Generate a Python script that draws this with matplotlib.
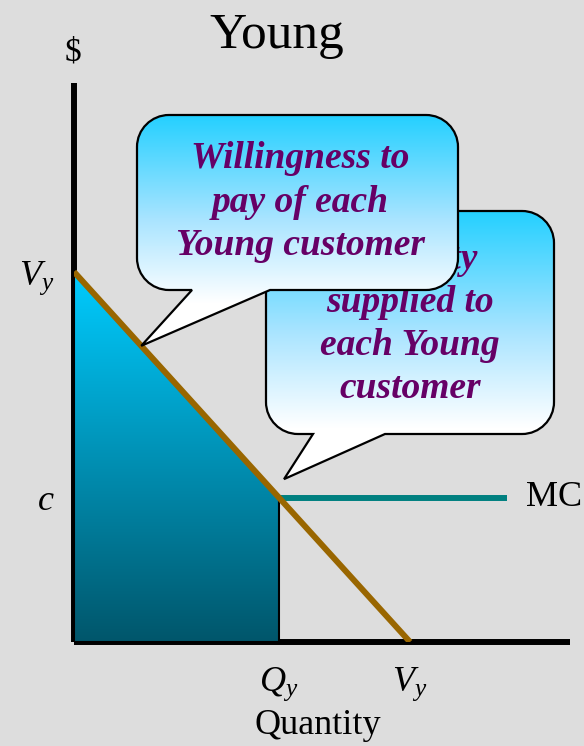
import matplotlib.pyplot as plt
import numpy as np
from matplotlib.path import Path
from matplotlib.patches import PathPatch, Polygon
from matplotlib.colors import LinearSegmentedColormap

plt.rcParams['font.family'] = ['Liberation Serif', 'DejaVu Serif']
plt.rcParams['mathtext.fontset'] = 'custom'
plt.rcParams['mathtext.rm'] = 'Liberation Serif'
plt.rcParams['mathtext.it'] = 'Liberation Serif:italic'

# demand of a Young customer: price from vy down to 0 at quantity vy
vy = 10.0
c = 3.9          # marginal cost
qy = 6.1         # quantity where demand meets MC
mc_end = 12.9

demand_x = [0, vy]
demand_y = [vy, 0]

x_ticks = [qy, vy]
x_labels = ['$Q_y$', '$V_y$']
y_ticks = [c, vy]
y_labels = ['$c$', '$V_y$']

bubble_texts = ['Willingness to\npay of each\nYoung customer',
                'Quantity\nsupplied to\neach Young\ncustomer']
bubble_tips = [(2.0, 8.0), (6.25, 4.4)]

bg = '#dddddd'
purple = '#660066'

fig = plt.figure(figsize=(5.84, 7.46), dpi=100, facecolor=bg)
ax = fig.add_axes([74 / 584, 104 / 746, 496 / 584, 559 / 746])
ax.set_facecolor(bg)
ax.set_xlim(0, 14.76)
ax.set_ylim(0, 15.1)
for s in ['top', 'right']:
    ax.spines[s].set_visible(False)
for s in ['left', 'bottom']:
    ax.spines[s].set_linewidth(4.3)
    ax.spines[s].set_color('black')
    ax.spines[s].set_capstyle('butt')

ax.set_xticks(x_ticks, x_labels, fontsize=26)
ax.set_yticks(y_ticks, y_labels, fontsize=26)
ax.tick_params(length=0)
ax.tick_params(axis='x', pad=17)
ax.tick_params(axis='y', pad=14)

# consumer value area under demand up to Qy
area = [(0, vy), (qy, c), (qy, 0), (0, 0)]
fill_cmap = LinearSegmentedColormap.from_list('fill', ['#00566b', '#00ccff'])
grad = np.linspace(0, 1, 256).reshape(-1, 1)
img = ax.imshow(grad, cmap=fill_cmap, origin='lower', aspect='auto',
                extent=[0, qy, 0, vy], zorder=3)
outline = Polygon(area, closed=True, fill=False, edgecolor='black', lw=1.5, zorder=3.5)
ax.add_patch(outline)
img.set_clip_path(outline)

ax.plot([qy, mc_end], [c, c], color='#008080', lw=4.3, solid_capstyle='butt', zorder=4)
ax.plot(demand_x, demand_y, color='#996600', lw=4.3, solid_capstyle='butt', zorder=4)

ax.text(mc_end + 0.55, c, 'MC', fontsize=26, va='center', ha='left')

# overlay in pixel units (y down) for titles and speech bubbles
ov = fig.add_axes([0, 0, 1, 1], facecolor='none')
ov.set_xlim(0, 584)
ov.set_ylim(746, 0)
ov.axis('off')

ov.text(277, 36, 'Young', fontsize=37, ha='center', va='center')
ov.text(73, 52, '$', fontsize=24, ha='center', va='center')
ov.text(318, 725, 'Quantity', fontsize=26, ha='center', va='center')


def bubble(x0, x1, ytop, ybot, r, ba, bb, tip):
    k = 0.5523 * r
    verts = [(x0 + r, ytop), (x1 - r, ytop),
             (x1 - r + k, ytop), (x1, ytop + r - k), (x1, ytop + r),
             (x1, ybot - r),
             (x1, ybot - r + k), (x1 - r + k, ybot), (x1 - r, ybot),
             (bb, ybot), tip, (ba, ybot),
             (x0 + r, ybot),
             (x0 + r - k, ybot), (x0, ybot - r + k), (x0, ybot - r),
             (x0, ytop + r),
             (x0, ytop + r - k), (x0 + r - k, ytop), (x0 + r, ytop),
             (x0 + r, ytop)]
    codes = [Path.MOVETO, Path.LINETO,
             Path.CURVE4, Path.CURVE4, Path.CURVE4,
             Path.LINETO,
             Path.CURVE4, Path.CURVE4, Path.CURVE4,
             Path.LINETO, Path.LINETO, Path.LINETO,
             Path.LINETO,
             Path.CURVE4, Path.CURVE4, Path.CURVE4,
             Path.LINETO,
             Path.CURVE4, Path.CURVE4, Path.CURVE4,
             Path.CLOSEPOLY]
    return Path(verts, codes)


def to_overlay(pt):
    return tuple(ov.transData.inverted().transform(ax.transData.transform(pt)))


bubble_cmap = LinearSegmentedColormap.from_list(
    'bubble', [(0, '#1ecfff'), (0.45, '#a8e4ff'), (0.8, '#ffffff'), (1, '#ffffff')])

boxes = [(137, 458, 115, 290, 32, 192, 270),
         (266, 554, 211, 434, 32, 313, 385)]
text_pos = [(300, 202), (410, 324)]
layers = [5, 3]

for i in [1, 0]:
    x0, x1, ytop, ybot, r, ba, bb = boxes[i]
    tip = to_overlay(bubble_tips[i])
    path = bubble(x0, x1, ytop, ybot, r, ba, bb, tip)
    edge = PathPatch(path, facecolor='none', edgecolor='black', lw=1.6,
                     zorder=layers[i] + 0.5)
    ov.add_patch(edge)
    g = ov.imshow(grad, cmap=bubble_cmap, aspect='auto',
                  extent=[x0 - 5, x1 + 5, tip[1] + 5, ytop - 5], zorder=layers[i])
    g.set_clip_path(edge)
    ov.text(text_pos[i][0], text_pos[i][1], bubble_texts[i], fontsize=27,
            fontweight='bold', fontstyle='italic', color=purple,
            ha='center', va='center', linespacing=1.3, zorder=layers[i] + 0.8)

fig.savefig('out.png', dpi=100, facecolor=bg)
